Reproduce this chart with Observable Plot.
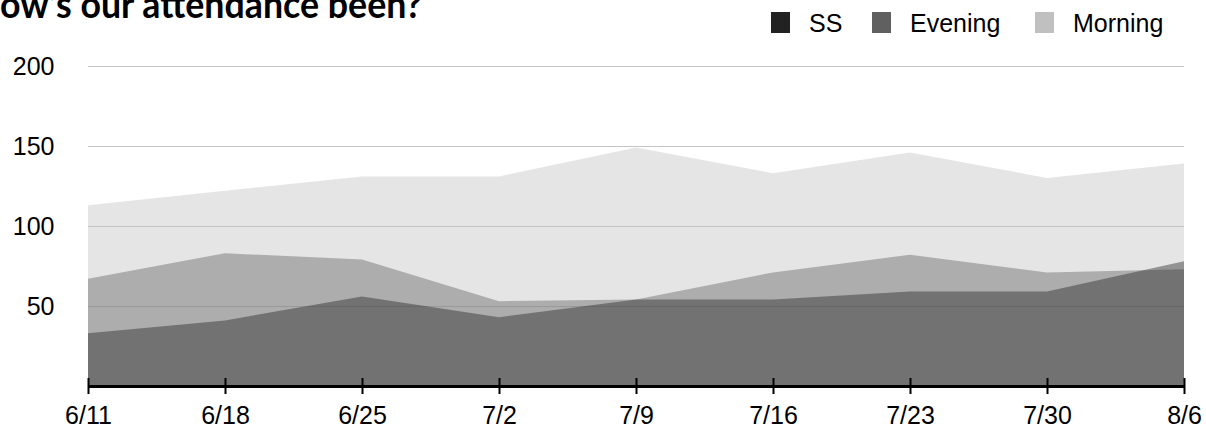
<!DOCTYPE html>
<html>
<head>
<meta charset="utf-8">
<script src="https://cdn.jsdelivr.net/npm/d3@7"></script>
<script src="https://cdn.jsdelivr.net/npm/@observablehq/plot@0.6"></script>
<style>
  html, body { margin: 0; padding: 0; background: #fff; }
  #wrap { position: relative; width: 1206px; height: 428px; overflow: hidden; font-family: "Liberation Sans", Arial, Helvetica, sans-serif; }
  #title { position: absolute; left: 0; top: 0; }
  #legend { position: absolute; left: 0; top: 0; }
  #chart { position: absolute; left: 0; top: 0; }
</style>
</head>
<body>
<div id="wrap">
  <div id="chart"></div>
  <svg id="title" width="1206" height="40"></svg>
  <svg id="legend" width="1206" height="40"></svg>
</div>
<script>
// ---- data ----
const dates = ["6/11", "6/18", "6/25", "7/2", "7/9", "7/16", "7/23", "7/30", "8/6"];
const morning = [113, 122, 131, 131, 149, 133, 146, 130, 139];
const evening = [67, 83, 79, 53, 54, 71, 82, 71, 73];
const ss = [33, 41, 56, 43, 54, 54, 59, 59, 78];
const seriesNames = ["SS", "Evening", "Morning"];
const seriesColors = ["#222222", "#606060", "#c0c0c0"];
const yTicks = [50, 100, 150, 200];

const toRows = (vals) => dates.map((d, i) => ({date: d, value: vals[i]}));
const rowsMorning = toRows(morning);
const rowsEvening = toRows(evening);
const rowsSS = toRows(ss);

const areaOpacity = 0.42;

const chart = Plot.plot({
  width: 1206,
  height: 428,
  marginLeft: 88,
  marginRight: 22,
  marginTop: 66,
  marginBottom: 42,
  style: {fontFamily: '"Liberation Sans", Arial, Helvetica, sans-serif', fontSize: "25px", color: "#000", background: "transparent", overflow: "visible"},
  x: {type: "point", domain: dates, padding: 0},
  y: {domain: [0, 200]},
  marks: [
    Plot.gridY(yTicks, {stroke: "#c4c4c4", strokeOpacity: 1, strokeWidth: 1}),
    Plot.areaY(rowsMorning, {x: "date", y: "value", fill: seriesColors[2], fillOpacity: areaOpacity}),
    Plot.areaY(rowsEvening, {x: "date", y: "value", fill: seriesColors[1], fillOpacity: areaOpacity}),
    Plot.areaY(rowsSS, {x: "date", y: "value", fill: seriesColors[0], fillOpacity: areaOpacity}),
    Plot.ruleY([0], {stroke: "#000", strokeWidth: 3}),
    Plot.axisX({tickSize: 16, dy: -8, strokeWidth: 2, stroke: "#000", tickPadding: 12, fontSize: 25, label: null}),
    Plot.axisY({ticks: yTicks, tickSize: 0, tickPadding: 34, fontSize: 25, label: null})
  ]
});
document.getElementById("chart").appendChild(chart);

// ---- title (cut off at top-left as in the reference) ----
const title = d3.select("#title");
title.append("text")
  .attr("x", -2).attr("y", 18)
  .attr("text-anchor", "end")
  .style("font-family", "Lato, 'DejaVu Sans', sans-serif")
  .style("font-weight", 700).style("font-size", "38px")
  .text("H");
title.append("text")
  .attr("x", 0).attr("y", 18)
  .attr("textLength", 422).attr("lengthAdjust", "spacingAndGlyphs")
  .style("font-family", "Lato, 'DejaVu Sans', sans-serif")
  .style("font-weight", 700).style("font-size", "38px")
  .text("ow\u2019s our attendance been?");

// ---- legend ----
const legend = d3.select("#legend");
const legendX = [771, 872, 1035];
seriesNames.forEach((name, i) => {
  legend.append("rect")
    .attr("x", legendX[i]).attr("y", 12)
    .attr("width", 19).attr("height", 21)
    .attr("fill", seriesColors[i]);
  legend.append("text")
    .attr("x", legendX[i] + 38).attr("y", 32)
    .style("font-family", '"Liberation Sans", Arial, Helvetica, sans-serif')
    .style("font-size", "25px")
    .attr("fill", "#000")
    .text(name);
});
</script>
</body>
</html>
